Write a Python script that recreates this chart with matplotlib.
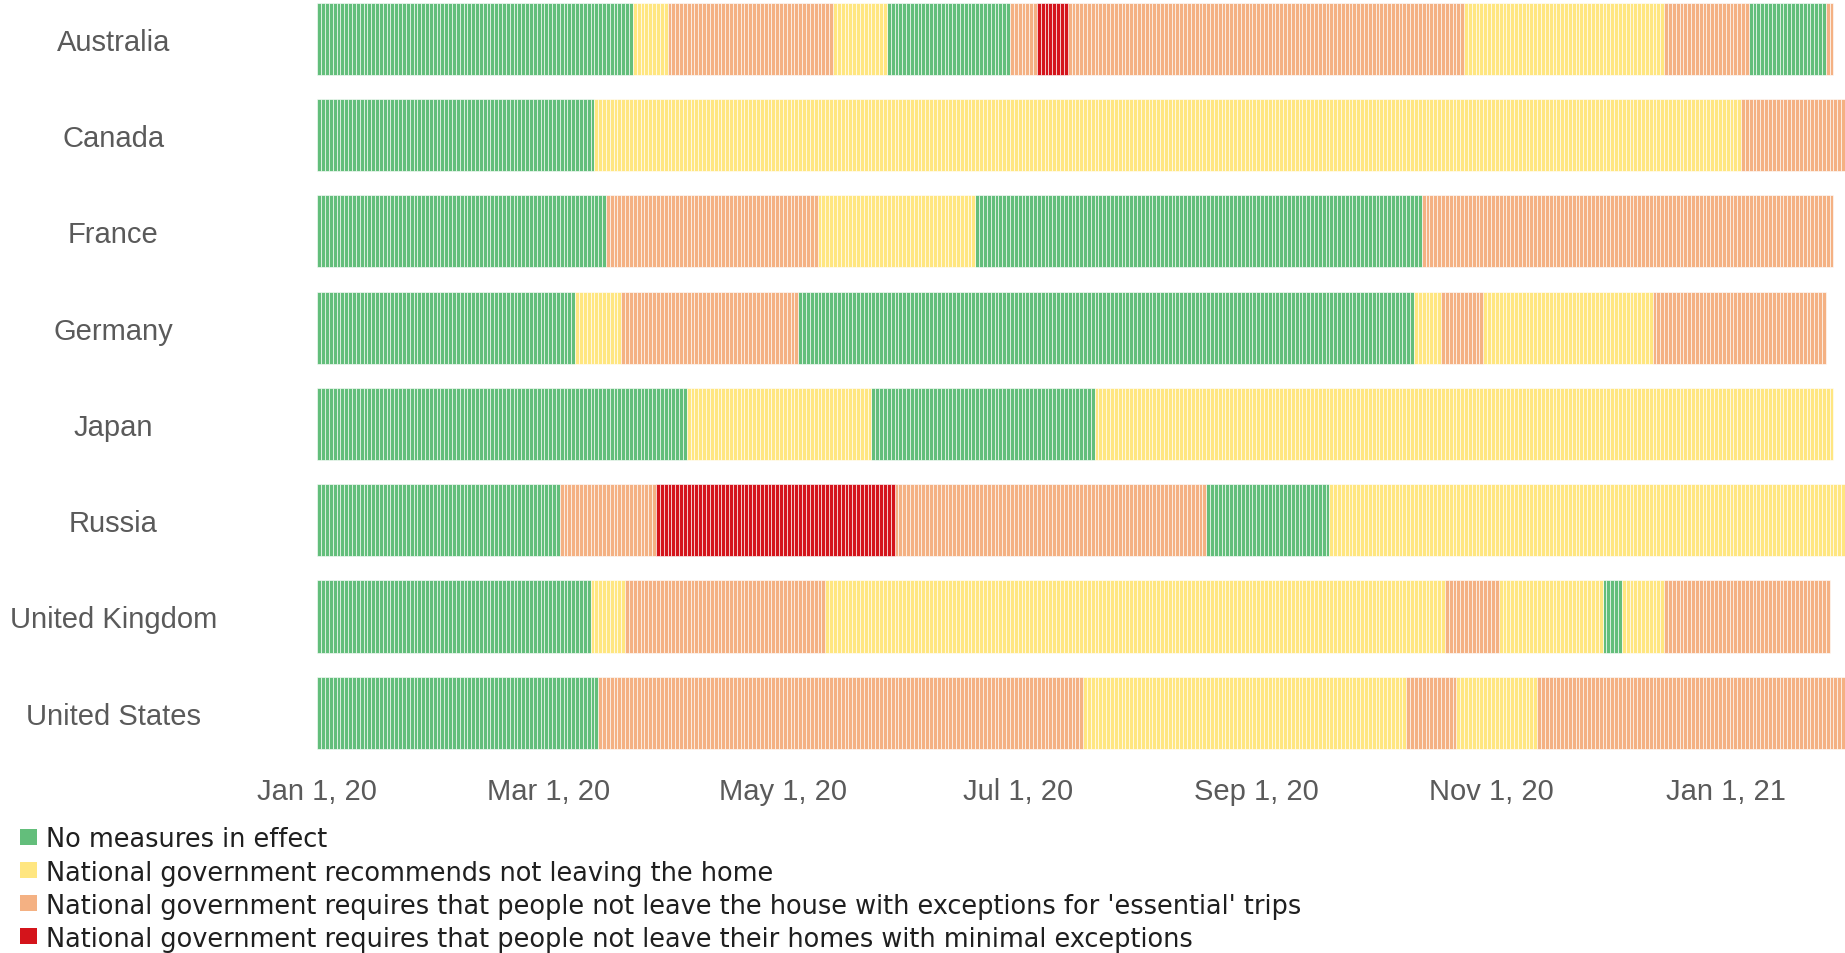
import numpy as np
import matplotlib
matplotlib.use("Agg")
import matplotlib.pyplot as plt
from matplotlib.patches import Rectangle

plt.rcParams['font.family'] = ['Liberation Sans', 'DejaVu Sans']

# stay-at-home requirement levels, one entry per change date
countries = ["Australia", "Canada", "France", "Germany", "Japan", "Russia",
             "United Kingdom", "United States"]

australia_dates = ["2020-01-01", "2020-03-23", "2020-04-01", "2020-05-14", "2020-05-28",
                   "2020-06-29", "2020-07-06", "2020-07-14", "2020-10-25", "2020-12-16",
                   "2021-01-07", "2021-01-27"]
australia_levels = [0, 1, 2, 1, 0, 2, 3, 2, 1, 2, 0, 2]

canada_dates = ["2020-01-01", "2020-03-13", "2021-01-05"]
canada_levels = [0, 1, 2]

france_dates = ["2020-01-01", "2020-03-16", "2020-05-10", "2020-06-20", "2020-10-14"]
france_levels = [0, 2, 1, 0, 2]

germany_dates = ["2020-01-01", "2020-03-08", "2020-03-20", "2020-05-05", "2020-10-12",
                 "2020-10-19", "2020-10-30", "2020-12-13"]
germany_levels = [0, 1, 2, 0, 1, 2, 1, 2]

japan_dates = ["2020-01-01", "2020-04-06", "2020-05-24", "2020-07-21"]
japan_levels = [0, 1, 0, 1]

russia_dates = ["2020-01-01", "2020-03-04", "2020-03-29", "2020-05-30", "2020-08-19",
                "2020-09-20"]
russia_levels = [0, 2, 3, 2, 0, 1]

uk_dates = ["2020-01-01", "2020-03-12", "2020-03-21", "2020-05-12", "2020-10-20",
            "2020-11-03", "2020-11-30", "2020-12-05", "2020-12-16"]
uk_levels = [0, 1, 2, 1, 2, 1, 0, 1, 2]

us_dates = ["2020-01-01", "2020-03-14", "2020-07-18", "2020-10-10", "2020-10-23",
            "2020-11-13"]
us_levels = [0, 2, 1, 2, 1, 2]

last_dates = ["2021-01-28", "2021-02-01", "2021-01-28", "2021-01-26", "2021-01-28",
              "2021-02-01", "2021-01-27", "2021-02-01"]

legend_labels = [
    "No measures in effect",
    "National government recommends not leaving the home",
    "National government requires that people not leave the house with exceptions for 'essential' trips",
    "National government requires that people not leave their homes with minimal exceptions",
]
level_colors = ["#63be7b", "#ffe680", "#f4b183", "#d4141b"]

tick_dates = ["2020-01-01", "2020-03-01", "2020-05-01", "2020-07-01", "2020-09-01",
              "2020-11-01", "2021-01-01"]
tick_labels = ["Jan 1, 20", "Mar 1, 20", "May 1, 20", "Jul 1, 20", "Sep 1, 20",
               "Nov 1, 20", "Jan 1, 21"]

all_dates = [australia_dates, canada_dates, france_dates, germany_dates, japan_dates,
             russia_dates, uk_dates, us_dates]
all_levels = [australia_levels, canada_levels, france_levels, germany_levels, japan_levels,
              russia_levels, uk_levels, us_levels]

origin = np.datetime64("2020-01-01")


def to_days(dates):
    return (np.array(dates, dtype="datetime64[D]") - origin).astype(int)


W, H = 1845, 954
fig = plt.figure(figsize=(W / 100, H / 100), dpi=100)
ax = fig.add_axes([317.33 / W, 0.20131, 1 - 317.33 / W, 0.80755])

for row, (dates, levels, last) in enumerate(zip(all_dates, all_levels, last_dates)):
    starts = to_days(dates)
    days = np.arange(0, to_days([last])[0] + 1)
    day_level = np.array(levels)[np.searchsorted(starts, days, side="right") - 1]
    for lev in range(4):
        sel = days[day_level == lev]
        if len(sel) == 0:
            continue
        ax.barh(np.full(len(sel), row), 1, left=sel, height=0.748,
                color=level_colors[lev], edgecolor=(1, 1, 1, 0.65), linewidth=0.65)

ax.set_xlim(0, 397)
ax.set_ylim(7.5, -0.5)
for s in ax.spines.values():
    s.set_visible(False)

ax.set_xticks(to_days(tick_dates), tick_labels)
ax.set_yticks(range(len(countries)), countries)
ax.tick_params(axis="x", length=0, pad=11.5, labelsize=21, labelcolor="#5a5a5a")
ax.tick_params(axis="y", length=0, pad=147, labelsize=21, labelcolor="#5a5a5a")
for t in ax.get_yticklabels():
    t.set_horizontalalignment("center")

# legend below the chart
for i, (lab, col) in enumerate(zip(legend_labels, level_colors)):
    yc = 837.5 + i * 33.3
    fig.patches.append(Rectangle((20 / W, 1 - (yc + 8) / H), 17 / W, 16 / H,
                                 transform=fig.transFigure, facecolor=col,
                                 edgecolor="none"))
    fig.text(45.5 / W, 1 - (yc + 10) / H, lab, fontsize=18.45, family="DejaVu Sans",
             color="#1f1f1f", va="baseline", ha="left")

fig.savefig("out.png", dpi=100)
